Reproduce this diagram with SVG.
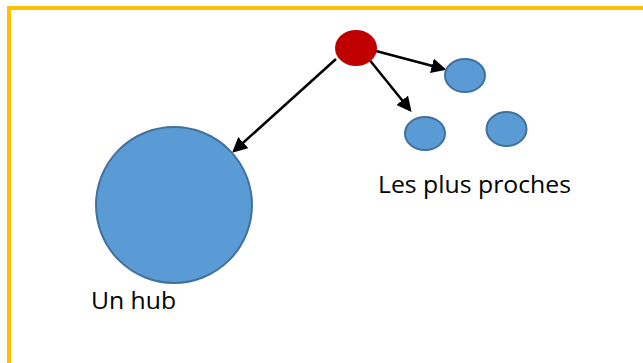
<svg xmlns="http://www.w3.org/2000/svg" width="643" height="363" viewBox="0 0 643 363">
<style>
.blue{fill:#5B9BD5;stroke:#41719C;stroke-width:2}
.lbl{font-family:"Open Sans","Liberation Sans",sans-serif;font-size:24.5px;fill:#000}
.conn{stroke:#000;stroke-width:2.5;fill:none;marker-end:url(#ah)}
</style>
<defs>
<marker id="ah" markerWidth="6" markerHeight="6" refX="5" refY="3" orient="auto" markerUnits="strokeWidth">
<path d="M0,0 L6,3 L0,6 z" fill="#000"/>
</marker>
</defs>
<rect x="0" y="0" width="643" height="363" fill="#fff"/>
<path d="M9,363 L9,8 L643,8" fill="none" stroke="#FFC000" stroke-width="4"/>
<g id="connectors">
<line class="conn" x1="376" y1="51" x2="444" y2="69"/>
<line class="conn" x1="368" y1="58" x2="410" y2="110"/>
<line class="conn" x1="336" y1="59" x2="234" y2="151"/>
</g>
<g id="hub"><circle class="blue" cx="174" cy="205" r="78"/></g>
<g id="source"><ellipse cx="356" cy="48" rx="21" ry="18" fill="#C00000"/></g>
<g id="near1"><ellipse class="blue" cx="465" cy="75.5" rx="20" ry="16.5"/></g>
<g id="near2"><ellipse class="blue" cx="425" cy="133.5" rx="20" ry="16.5"/></g>
<g id="near3"><ellipse class="blue" cx="506.5" cy="129" rx="20" ry="17"/></g>
<g id="label-near"><text class="lbl" x="378" y="193" textLength="193" lengthAdjust="spacingAndGlyphs">Les plus proches</text></g>
<g id="label-hub"><text class="lbl" x="91" y="309" textLength="85" lengthAdjust="spacingAndGlyphs">Un hub</text></g>
</svg>
